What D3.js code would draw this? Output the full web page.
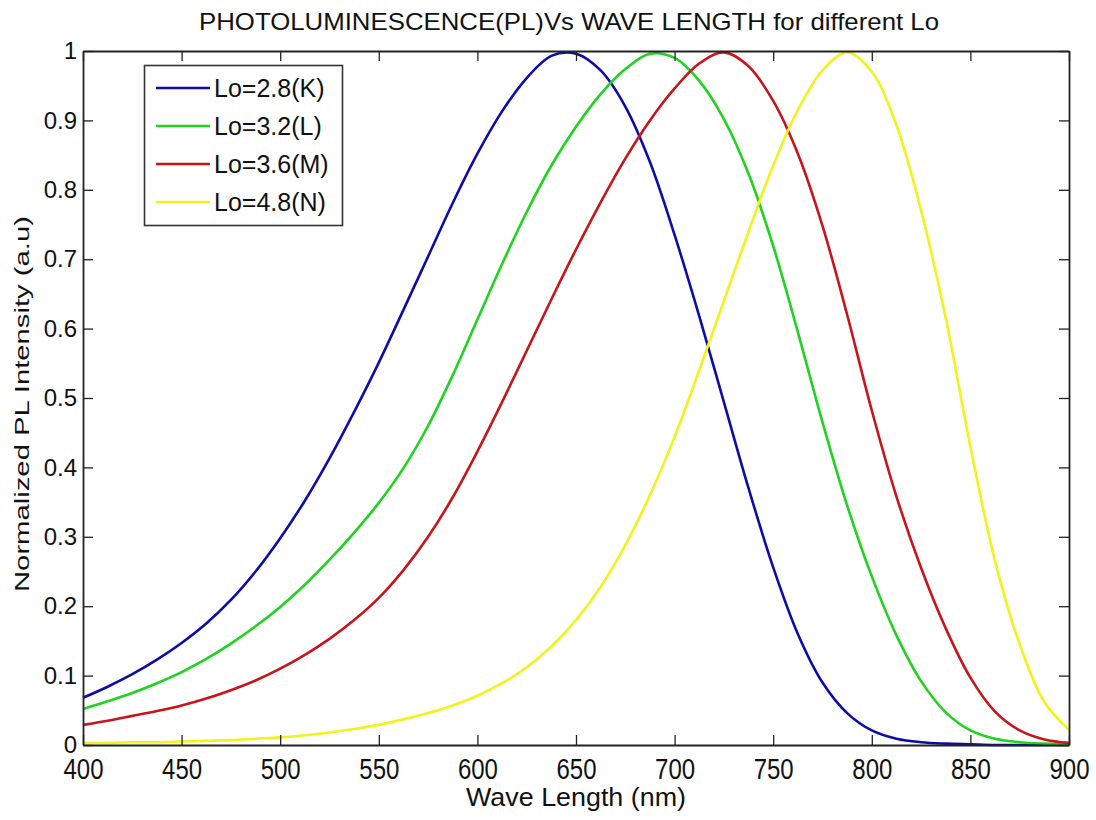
<!DOCTYPE html>
<html>
<head>
<meta charset="utf-8">
<script src="https://cdn.jsdelivr.net/npm/d3@7"></script>
<style>
  html, body { margin: 0; padding: 0; background: #ffffff; }
  svg text { font-family: "Liberation Sans", Arial, Helvetica, sans-serif; fill: #111; }
</style>
</head>
<body>
<svg id="chart" width="1096" height="820"></svg>
<script>
// ---------------- data ----------------
const wavelengths = [400, 412.5, 425, 437.5, 450, 462.5, 475, 487.5, 500, 512.5, 525, 537.5, 550, 562.5, 575, 587.5,
  600, 612.5, 625, 637.5, 650, 662.5, 675, 687.5, 700, 712.5, 725, 737.5, 750, 762.5, 775, 787.5,
  800, 812.5, 825, 837.5, 850, 862.5, 875, 887.5, 900];

const seriesK = [0.068, 0.084, 0.102, 0.123, 0.147, 0.175, 0.209, 0.250, 0.298, 0.352, 0.413, 0.480, 0.551, 0.627, 0.704, 0.781,
  0.852, 0.913, 0.961, 0.993, 0.996, 0.972, 0.920, 0.840, 0.735, 0.618, 0.494, 0.370, 0.256, 0.160, 0.090, 0.046,
  0.021, 0.009, 0.004, 0.002, 0.001, 0.000, 0.000, 0.000, 0.000];

const seriesL = [0.052, 0.063, 0.075, 0.089, 0.105, 0.124, 0.146, 0.171, 0.199, 0.231, 0.267, 0.306, 0.349, 0.399, 0.460, 0.533,
  0.613, 0.693, 0.768, 0.835, 0.891, 0.938, 0.974, 0.996, 0.990, 0.957, 0.902, 0.823, 0.719, 0.595, 0.465, 0.345,
  0.243, 0.158, 0.092, 0.047, 0.021, 0.009, 0.004, 0.002, 0.001];

const seriesM = [0.029, 0.035, 0.042, 0.049, 0.057, 0.067, 0.079, 0.093, 0.110, 0.130, 0.153, 0.180, 0.212, 0.252, 0.300, 0.357,
  0.423, 0.494, 0.568, 0.642, 0.714, 0.782, 0.845, 0.900, 0.946, 0.982, 0.998, 0.978, 0.928, 0.852, 0.748, 0.620,
  0.482, 0.358, 0.255, 0.168, 0.097, 0.048, 0.021, 0.008, 0.003];

const seriesN = [0.003, 0.003, 0.004, 0.004, 0.005, 0.006, 0.007, 0.009, 0.011, 0.014, 0.018, 0.023, 0.029, 0.037, 0.046, 0.057,
  0.071, 0.089, 0.112, 0.142, 0.180, 0.228, 0.288, 0.360, 0.444, 0.540, 0.640, 0.740, 0.835, 0.915, 0.972, 0.998,
  0.970, 0.893, 0.770, 0.615, 0.430, 0.265, 0.145, 0.062, 0.022];

const seriesNames = ["Lo=2.8(K)", "Lo=3.2(L)", "Lo=3.6(M)", "Lo=4.8(N)"];
const seriesColors = ["#0c0ca8", "#1fd41f", "#c8141a", "#f2f21c"];

const xTicks = [400, 450, 500, 550, 600, 650, 700, 750, 800, 850, 900];
const xTickLabels = ["400", "450", "500", "550", "600", "650", "700", "750", "800", "850", "900"];
const yTicks = [0, 0.1, 0.2, 0.3, 0.4, 0.5, 0.6, 0.7, 0.8, 0.9, 1];
const yTickLabels = ["0", "0.1", "0.2", "0.3", "0.4", "0.5", "0.6", "0.7", "0.8", "0.9", "1"];

const titleText = "PHOTOLUMINESCENCE(PL)Vs WAVE LENGTH for different Lo";
const xLabelText = "Wave Length (nm)";
const yLabelText = "Normalized PL Intensity (a.u)";

// ---------------- layout ----------------
const svg = d3.select("#chart");
const plotL = 83, plotR = 1069, plotT = 51, plotB = 745;

const x = d3.scaleLinear().domain([400, 900]).range([plotL, plotR]);
const y = d3.scaleLinear().domain([0, 1]).range([plotB, plotT]);

const allSeries = [seriesK, seriesL, seriesM, seriesN];

// curves
const line = d3.line()
  .x(d => x(d[0]))
  .y(d => y(d[1]))
  .curve(d3.curveCatmullRom.alpha(0.5));

const plot = svg.append("g");
allSeries.forEach((vals, i) => {
  const pts = wavelengths.map((w, j) => [w, vals[j]]);
  plot.append("path")
    .datum(pts)
    .attr("fill", "none")
    .attr("stroke", seriesColors[i])
    .attr("stroke-width", 2.6)
    .attr("stroke-linejoin", "round")
    .attr("d", line);
});

// axes (ticks inward, box)
const axisColor = "#222";
const xFmt = d => xTickLabels[xTicks.indexOf(d)];
const yFmt = d => yTickLabels[yTicks.findIndex(t => Math.abs(t - d) < 1e-9)];

const gx = svg.append("g").attr("transform", `translate(0,${plotB})`)
  .call(d3.axisBottom(x).tickValues(xTicks).tickFormat(xFmt).tickSizeInner(-10).tickSizeOuter(0).tickPadding(8));
gx.selectAll("text")
  .attr("font-size", 24)
  .attr("y", 27.6).attr("dy", 0)
  .attr("transform", "scale(1,1.25)");

const gy = svg.append("g").attr("transform", `translate(${plotL},0)`)
  .call(d3.axisLeft(y).tickValues(yTicks).tickFormat(yFmt).tickSizeInner(-10).tickSizeOuter(0).tickPadding(6));
gy.selectAll("text").attr("font-size", 24).attr("dy", "0.32em");

const gt = svg.append("g").attr("transform", `translate(0,${plotT})`)
  .call(d3.axisTop(x).tickValues(xTicks).tickFormat("").tickSizeInner(-10).tickSizeOuter(0));
const gr = svg.append("g").attr("transform", `translate(${plotR},0)`)
  .call(d3.axisRight(y).tickValues(yTicks).tickFormat("").tickSizeInner(-10).tickSizeOuter(0));

[gx, gy, gt, gr].forEach(g => {
  g.select(".domain").attr("stroke", axisColor).attr("stroke-width", 1.8);
  g.selectAll(".tick line").attr("stroke", axisColor).attr("stroke-width", 1.3);
  g.selectAll("text").attr("fill", "#111").attr("font-family", "'Liberation Sans', Arial, sans-serif");
});

// title
svg.append("text")
  .attr("x", 569).attr("y", 30)
  .attr("text-anchor", "middle")
  .attr("font-size", 24)
  .attr("textLength", 740).attr("lengthAdjust", "spacingAndGlyphs")
  .text(titleText);

// x label
svg.append("text")
  .attr("x", 576).attr("y", 806)
  .attr("text-anchor", "middle")
  .attr("font-size", 25)
  .attr("textLength", 220).attr("lengthAdjust", "spacingAndGlyphs")
  .text(xLabelText);

// y label
svg.append("text")
  .attr("transform", "translate(29,404) rotate(-90)")
  .attr("text-anchor", "middle")
  .attr("font-size", 21)
  .attr("textLength", 376).attr("lengthAdjust", "spacingAndGlyphs")
  .text(yLabelText);

// legend
const lg = svg.append("g");
lg.append("rect")
  .attr("x", 144.5).attr("y", 65.5).attr("width", 198).attr("height", 160)
  .attr("fill", "#fff").attr("stroke", "#333").attr("stroke-width", 1.6);
const rowY = d3.scalePoint().domain(seriesNames).range([88, 202]);
seriesNames.forEach((name, i) => {
  const cy = rowY(name);
  lg.append("line")
    .attr("x1", 156).attr("x2", 210).attr("y1", cy).attr("y2", cy)
    .attr("stroke", seriesColors[i]).attr("stroke-width", 2.6);
  lg.append("text")
    .attr("x", 214).attr("y", cy + 8.5)
    .attr("font-size", 25)
    .text(name);
});
</script>
</body>
</html>
